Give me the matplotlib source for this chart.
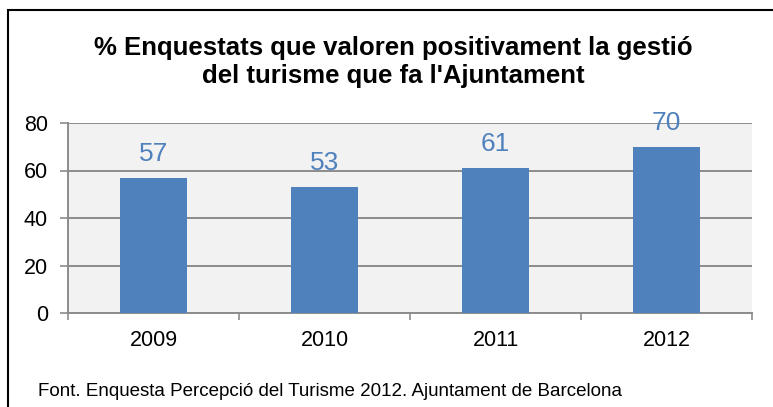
import matplotlib.pyplot as plt
from matplotlib.patches import Rectangle

years = ["2009", "2010", "2011", "2012"]
values = [57, 53, 61, 70]
title = "% Enquestats que valoren positivament la gestió\ndel turisme que fa l'Ajuntament"
source = "Font. Enquesta Percepció del Turisme 2012. Ajuntament de Barcelona"

plt.rcParams['font.family'] = ['Liberation Sans', 'DejaVu Sans']

W, H = 773, 407
fig = plt.figure(figsize=(W / 100, H / 100), dpi=100)
ax = fig.add_axes([68 / W, 1 - 313 / H, (752 - 68) / W, (313 - 123) / H])

blue = "#4F81BD"
grid = "#8C8C8C"
x = range(len(years))
ax.set_facecolor("#F2F2F2")
ax.bar(x, values, width=0.39, color=blue, zorder=3)
for xi, v in zip(x, values):
    ax.text(xi, v + 5, str(v), ha="center", va="bottom", color=blue, fontsize=19, zorder=4)

ax.set_ylim(0, 80)
ax.set_xlim(-0.5, 3.5)
ax.set_yticks([0, 20, 40, 60, 80])
ax.yaxis.grid(True, color=grid, linewidth=1.4, zorder=1)
ax.set_axisbelow(True)
ax.set_xticks(list(x))
ax.set_xticklabels(years)
ax.set_xticks([-0.5, 0.5, 1.5, 2.5, 3.5], minor=True)
ax.tick_params(axis="x", which="major", length=0, pad=12, labelsize=15.5)
ax.tick_params(axis="x", which="minor", length=5, width=1.2, color=grid, direction="out")
ax.tick_params(axis="y", length=6, width=1.2, color=grid, labelsize=15.5, pad=8.5)
for s in ["top", "right"]:
    ax.spines[s].set_visible(False)
for s in ["left", "bottom"]:
    ax.spines[s].set_color(grid)
    ax.spines[s].set_linewidth(1.4)

fig.text(393 / W, 1 - 62 / H, title, ha="center", va="center", fontsize=18.5,
         fontweight="bold", linespacing=1.25)
fig.text(38 / W, 1 - 391 / H, source, ha="left", va="center", fontsize=13.5)

fig.patches.append(Rectangle((8 / W, -0.1), 1.2, 1.1 - 10 / H, transform=fig.transFigure,
                             fill=False, edgecolor="black", linewidth=1.5))

fig.savefig("out.png", dpi=100)
